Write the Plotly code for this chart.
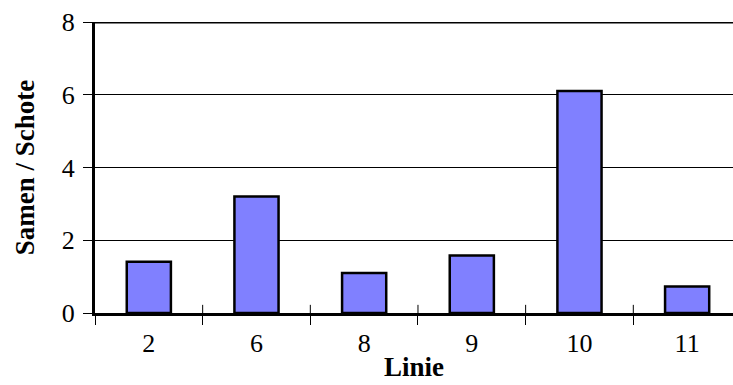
import plotly.graph_objects as go

categories = ["2", "6", "8", "9", "10", "11"]
values = [1.41, 3.2, 1.1, 1.58, 6.1, 0.73]
y_ticks = [0, 2, 4, 6, 8]

font_family = "Liberation Serif, Times New Roman, serif"

fig = go.Figure()
fig.add_trace(go.Bar(
    x=categories, y=values,
    marker=dict(color="#8080ff", line=dict(color="black", width=2.5)),
    width=0.41,
))

# crossing tick marks at category boundaries (inner half)
for i in range(len(categories) - 1):
    fig.add_shape(type="line", xref="x", yref="y domain",
                  x0=i + 0.5, x1=i + 0.5, y0=0, y1=0.028,
                  line=dict(color="black", width=1))
# thick top line
fig.add_shape(type="line", xref="paper", yref="y", x0=0, x1=1, y0=8, y1=8,
              line=dict(color="black", width=3))

fig.update_layout(
    width=733, height=385,
    margin=dict(l=95, r=0, t=22, b=72),
    plot_bgcolor="white", paper_bgcolor="white",
    showlegend=False,
    font=dict(family=font_family, size=26, color="black"),
    xaxis=dict(
        type="category", automargin=False,
        range=[-0.5, 5.426],
        showline=True, linecolor="black", linewidth=3,
        ticks="outside", tickson="boundaries", ticklen=9, tickwidth=1, tickcolor="black",
        showgrid=False,
        ticklabelstandoff=5,
        title=dict(text="<b>Linie</b>", font=dict(size=27), standoff=0),
        tickfont=dict(size=26),
    ),
    yaxis=dict(
        range=[0, 8], tickvals=y_ticks, automargin=False,
        showline=True, linecolor="black", linewidth=3,
        ticks="outside", ticklen=9, tickwidth=1, tickcolor="black",
        showgrid=True, gridcolor="black", gridwidth=1,
        zeroline=False,
        ticklabelstandoff=3,
        title=dict(text="<b>Samen / Schote</b>", font=dict(size=27), standoff=20),
        tickfont=dict(size=26),
    ),
)

fig.write_html("out.html", config={"displayModeBar": False},
               post_script="document.body.style.margin='0';document.body.style.padding='0';")
